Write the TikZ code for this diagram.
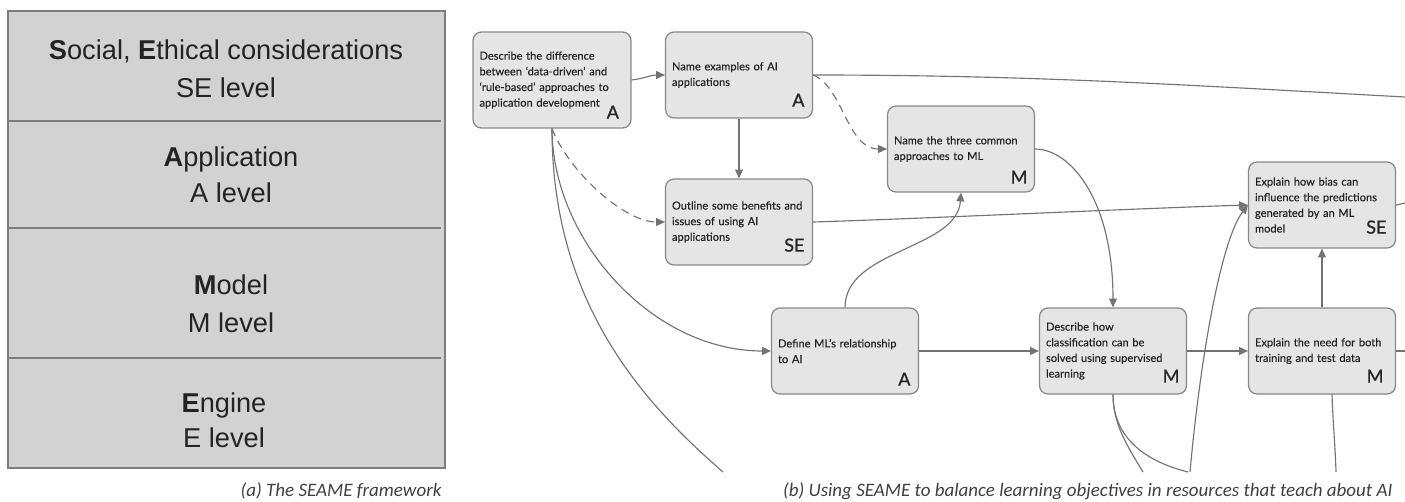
\documentclass[tikz,border=0pt]{standalone}
\usepackage{fontspec}
\setmainfont{Liberation Sans}
\newfontfamily\boxfont{Lato}[FakeBold=0.25]
\newfontfamily\lvlfont{Lato}[FakeBold=0.9]
\newfontfamily\capfont{Carlito}
\usetikzlibrary{arrows.meta}

\definecolor{panelfill}{RGB}{210,210,210}
\definecolor{panelline}{RGB}{125,125,125}
\definecolor{boxfill}{RGB}{229,229,229}
\definecolor{boxline}{RGB}{135,135,135}
\definecolor{linkgray}{RGB}{115,115,115}
\definecolor{inkgray}{RGB}{35,35,35}

\tikzset{every picture/.style={line width=0.7pt}}
\tikzset{
  objbox/.style={draw=boxline, fill=boxfill, rounded corners=0.17cm, text width=2.68cm, inner xsep=0.13cm,
    minimum height=1.72cm, align=left, text=inkgray, font=\boxfont\fontsize{6.3}{8.9}\selectfont},
  widebox/.style={objbox, text width=2.9cm, minimum height=1.92cm},
  lvl/.style={anchor=base east, inner sep=0pt, text=black!85, font=\lvlfont\fontsize{10.3}{12}\selectfont},
  link/.style={draw=linkgray, line width=0.65pt, -{Triangle[length=5pt,width=4.5pt]}},
  dashlink/.style={link, dash pattern={on 4.5pt off 3.2pt}},
  plain/.style={draw=linkgray, line width=0.65pt},
  tier/.style={anchor=base, text=inkgray, font=\fontsize{15.5}{18}\selectfont},
  captext/.style={anchor=base east, inner sep=0pt, text=black!75, font=\capfont\itshape\fontsize{10.8}{13}\selectfont}
}

\begin{document}
\begin{tikzpicture}[x=0.02cm, y=-0.02cm]
    \useasboundingbox (0,0) rectangle (1405,501);
    % (a) the four levels
    \draw[draw=panelline, line width=1.1pt, fill=panelfill] (8,11) rectangle (445,468);
    \draw[panelline, line width=0.8pt] (8,121) -- (441,121);
    \draw[panelline, line width=0.8pt] (8,228) -- (441,228);
    \draw[panelline, line width=0.8pt] (8,358) -- (441,358);
    \node[tier] (se1) at (226,59) {\textbf{S}ocial, \textbf{E}thical considerations};
    \node[tier] (se2) at (226,97) {SE level};
    \node[tier] (ap1) at (231,166) {\textbf{A}pplication};
    \node[tier] (ap2) at (231,202) {A level};
    \node[tier] (mo1) at (231,294) {\textbf{M}odel};
    \node[tier] (mo2) at (231,332) {M level};
    \node[tier] (en1) at (224,412) {\textbf{E}ngine};
    \node[tier] (en2) at (224,447) {E level};
    \node[captext] (capa) at (442,496) {(a) The SEAME framework};

    % (b) learning objectives
    \node[widebox] (diff) at (552,80) {Describe the difference\\between ‘data-driven’ and\\‘rule-based’ approaches to\\application development};
    \node[objbox] (aiex) at (739,75) {Name examples of AI\\applications};
    \node[objbox] (issues) at (739,222) {Outline some benefits and\\issues of using AI\\applications};
    \node[objbox] (mlways) at (961,149) {Name the three common\\approaches to ML};
    \node[objbox] (bias) at (1322,205) {Explain how bias can\\influence the predictions\\generated by an ML\\model};
    \node[objbox] (mldef) at (845,351) {Define ML’s relationship\\to AI};
    \node[objbox] (classif) at (1113,351) {Describe how\\classification can be\\solved using supervised\\learning};
    \node[objbox] (testdata) at (1322,351) {Explain the need for both\\training and test data};

    \node[lvl] (diffL) at ([shift={(-12,-10)}]diff.south east) {A};
    \node[lvl] (aiexL) at ([shift={(-8,-12)}]aiex.south east) {A};
    \node[lvl] (issuesL) at ([shift={(-8,-14)}]issues.south east) {SE};
    \node[lvl] (mlwaysL) at ([shift={(-7,-9)}]mlways.south east) {M};
    \node[lvl] (biasL) at ([shift={(-9,-15)}]bias.south east) {SE};
    \node[lvl] (mldefL) at ([shift={(-8,-9)}]mldef.south east) {A};
    \node[lvl] (classifL) at ([shift={(-7,-12)}]classif.south east) {M};
    \node[lvl] (testdataL) at ([shift={(-12,-12)}]testdata.south east) {M};

    % loose ends, cut off at the borders
    \coordinate (topout) at (1405,97);
    \coordinate (leftout) at (723,472);
    \coordinate (biasout) at (1405,203);
    \coordinate (dataout) at (1405,351);
    \coordinate (dataend) at (1336,472);
    \coordinate (clsout1) at (1143,472);
    \coordinate (clsout2) at (1188,472);
    \coordinate (biasin) at (1190,472);

    \draw[link] (diff.east) .. controls +(15,-2) and +(-15,0) .. (aiex.west);
    \draw[link] (aiex.south) -- (issues.north);
    \draw[plain] (aiex.east) .. controls +(220,0) and +(-220,-12) .. (topout);
    \draw[dashlink] (aiex.east) .. controls +(30,12) and +(-40,0) .. (mlways.west);
    \draw[dashlink] (diff.south) .. controls +(16,42) and +(-41,0) .. (issues.west);
    \draw[link] (diff.south) .. controls +(0,110) and +(-120,0) .. (mldef.west);
    \draw[plain] (diff.south) .. controls +(0,172) and +(-83,-72) .. (leftout);
    \draw[link] (issues.east) .. controls +(100,-3) and +(-100,3) .. (bias.west);
    \draw[link] (mldef.north) .. controls +(0,-58) and +(-4,57) .. (mlways.south);
    \draw[link] (mlways.east) .. controls +(35,0) and +(0,-108) .. (classif.north);
    \draw[link] (mldef.east) -- (classif.west);
    \draw[link] (classif.east) -- (testdata.west);
    \draw[link] (testdata.north) -- (bias.south);
    \draw[plain] (bias.east) -- (biasout);
    \draw[plain] (testdata.east) -- (dataout);
    \draw[plain] ([xshift=0.2cm]testdata.south) .. controls +(1,30) and +(-1,-30) .. (dataend);
    \draw[plain] (classif.south) .. controls +(0,30) and +(-15,-25) .. (clsout1);
    \draw[plain] (classif.south) .. controls +(0,45) and +(-40,-10) .. (clsout2);
    \draw[link] (biasin) .. controls +(10,-112) and +(-27,35) .. (bias.west);

    \node[captext] (capb) at (1393,496) {(b) Using SEAME to balance learning objectives in resources that teach about AI};
\end{tikzpicture}
\end{document}
